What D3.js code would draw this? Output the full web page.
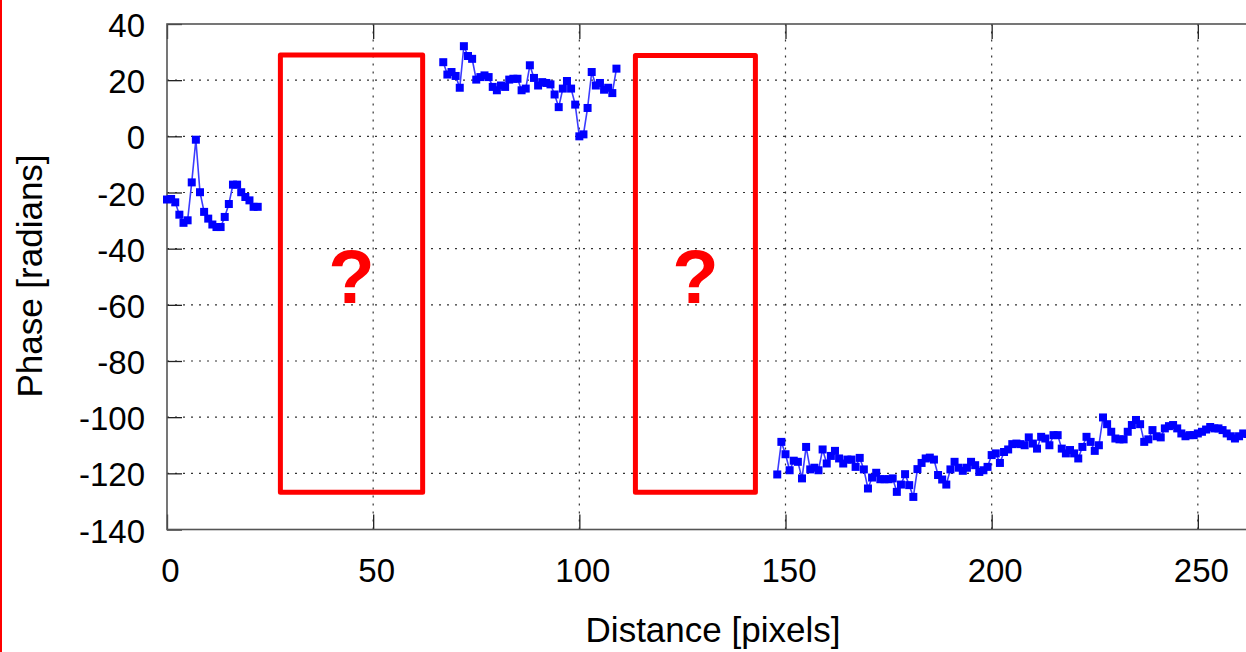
<!DOCTYPE html>
<meta charset="utf-8">
<script src="https://d3js.org/d3.v7.min.js"></script>
<style>
  body { margin: 0; background: #fff; overflow: hidden; }
  text { font-family: "Liberation Sans", Arial, sans-serif; fill: #000; }
</style>
<div id="chart"></div>
<script>

// phase segments (x = distance in pixels)
var seg1Start = 0;
var seg1 = [-22.5, -22.3, -23.5, -27.9, -30.8, -29.9, -16.4, -1.2, -19.9, -26.9, -29.3, -31.4,
  -32.3, -32.3, -28.7, -24.1, -17.2, -17.2, -19.9, -21.6, -22.8, -25.1, -25.1];

var seg2Start = 67;
var seg2 = [26.4, 22.0, 22.9, 21.5, 17.3, 32.1, 28.6, 27.6, 20.2, 21.1, 21.7, 21.1, 17.6, 16.4,
  18.1, 17.6, 20.2, 20.5, 20.5, 16.4, 17.0, 25.3, 20.8, 18.1, 19.3, 19.0, 18.5, 14.9, 10.4,
  17.0, 19.7, 17.0, 11.3, 0.0, 0.7, 10.1, 22.9, 18.1, 19.0, 16.6, 17.3, 15.4, 24.1];

var seg3Start = 148;
var seg3 = [-120.4, -108.8, -113.2, -118.9, -115.5, -115.9, -121.8, -110.6, -118.6, -118.0,
  -118.9, -111.5, -116.5, -113.8, -112.0, -114.7, -116.5, -115.1, -115.1, -117.7, -114.5,
  -118.6, -125.4, -121.5, -119.8, -122.1, -122.1, -122.1, -121.8, -126.6, -124.0, -120.3,
  -124.2, -128.4, -118.5, -116.3, -114.7, -114.4, -115.1, -120.6, -122.2, -124.0, -118.6,
  -115.9, -118.0, -119.1, -118.0, -115.9, -117.1, -119.5, -118.9, -117.7,
  -113.5, -112.9, -116.3, -112.4, -111.5, -109.6, -109.4, -109.6, -110.0, -107.2, -109.4,
  -111.2, -107.0, -107.6, -110.0, -106.4, -106.4, -111.2, -112.9, -111.7, -112.9, -114.7,
  -110.6, -107.0, -108.8, -112.0, -110.0, -100.1, -102.5, -105.2, -107.6, -107.9, -107.9,
  -105.2, -102.8, -101.0, -102.5, -108.8, -107.9, -104.6, -106.8, -107.2, -104.0, -103.2,
  -102.8, -104.0, -105.8, -106.8, -106.4, -106.4, -105.8, -105.2, -104.4, -103.5, -104.0,
  -104.0, -104.6, -105.8, -106.8, -107.6, -106.8, -105.8, -106.0];

var xTicks = [0, 50, 100, 150, 200, 250];
var yTicks = [-140, -120, -100, -80, -60, -40, -20, 0, 20, 40];

// missing stretches marked with red boxes (data units)
var gaps = [
  {x0: 27.5, x1: 62.0, y0: -126.7, y1: 29.0},
  {x0: 113.6, x1: 142.7, y0: -126.7, y1: 28.8}
];

var W = 1246, H = 652;
var margin = {top: 24, left: 167};
var plotW = 1237, plotH = 505.5;   // frame runs past the right edge of the picture

var svg = d3.select("#chart").append("svg")
  .attr("width", W).attr("height", H);

var x = d3.scaleLinear().domain([0, 300]).range([margin.left, margin.left + plotW]);
var y = d3.scaleLinear().domain([-140, 40]).range([margin.top + plotH, margin.top]);

var fmt = function(d) { return String(d); };   // plain hyphen minus, like gnuplot

// grid
svg.append("g").selectAll("line").data(yTicks.slice(1, -1)).enter().append("line")
  .attr("x1", x(0)).attr("x2", x(300))
  .attr("y1", function(d) { return y(d); }).attr("y2", function(d) { return y(d); })
  .attr("stroke", "#333").attr("stroke-width", 1.2).attr("stroke-dasharray", "2,6");
svg.append("g").selectAll("line").data(xTicks.slice(1)).enter().append("line")
  .attr("y1", y(-140)).attr("y2", y(40))
  .attr("x1", function(d) { return x(d); }).attr("x2", function(d) { return x(d); })
  .attr("stroke", "#333").attr("stroke-width", 1.2).attr("stroke-dasharray", "2,6");

// axes with inward ticks
var tk = 15;
svg.append("g").attr("transform", "translate(0," + y(-140) + ")")
  .call(d3.axisBottom(x).tickValues(xTicks).tickFormat(fmt).tickSizeInner(-tk).tickSizeOuter(0).tickPadding(29))
  .call(function(g) {
    g.select(".domain").remove();
    g.selectAll("line").attr("stroke", "#222").attr("stroke-width", 1.3);
    g.selectAll("text").attr("font-size", 33).attr("font-family", "Liberation Sans, Arial, sans-serif")
      .attr("dx", 3);
  });
svg.append("g").attr("transform", "translate(0," + y(40) + ")")
  .call(d3.axisTop(x).tickValues(xTicks).tickSizeInner(-tk).tickSizeOuter(0).tickFormat(""))
  .call(function(g) {
    g.select(".domain").remove();
    g.selectAll("line").attr("stroke", "#222").attr("stroke-width", 1.3);
  });
svg.append("g").attr("transform", "translate(" + x(0) + ",0)")
  .call(d3.axisLeft(y).tickValues(yTicks).tickFormat(fmt).tickSizeInner(-tk).tickSizeOuter(0).tickPadding(22))
  .call(function(g) {
    g.select(".domain").remove();
    g.selectAll("line").attr("stroke", "#222").attr("stroke-width", 1.3);
    g.selectAll("text").attr("font-size", 33).attr("font-family", "Liberation Sans, Arial, sans-serif")
      .attr("dy", "0.38em");
  });

// frame
svg.append("rect")
  .attr("x", x(0)).attr("y", y(40))
  .attr("width", x(300) - x(0)).attr("height", y(-140) - y(40))
  .attr("fill", "none").attr("stroke", "#555").attr("stroke-width", 1.6);

// data
function toPoints(start, vals) {
  return vals.map(function(v, i) { return {x: start + i, y: v}; });
}
var segments = [toPoints(seg1Start, seg1), toPoints(seg2Start, seg2), toPoints(seg3Start, seg3)];

var line = d3.line().x(function(d) { return x(d.x); }).y(function(d) { return y(d.y); });
var ms = 8;
segments.forEach(function(pts) {
  svg.append("path").datum(pts).attr("d", line)
    .attr("fill", "none").attr("stroke", "#3b3bff").attr("stroke-width", 1.6);
  svg.append("g").selectAll("rect").data(pts).enter().append("rect")
    .attr("x", function(d) { return x(d.x) - ms / 2; })
    .attr("y", function(d) { return y(d.y) - ms / 2; })
    .attr("width", ms).attr("height", ms)
    .attr("fill", "#0000ff");
});

// red annotation boxes
gaps.forEach(function(b) {
  svg.append("rect")
    .attr("x", x(b.x0)).attr("y", y(b.y1))
    .attr("width", x(b.x1) - x(b.x0)).attr("height", y(b.y0) - y(b.y1))
    .attr("fill", "none").attr("stroke", "#ff0000").attr("stroke-width", 5)
    .attr("stroke-linejoin", "round");
  svg.append("text")
    .attr("x", (x(b.x0) + x(b.x1)) / 2).attr("y", 303)
    .attr("text-anchor", "middle")
    .attr("font-family", "Open Sans, Noto Sans, sans-serif")
    .attr("font-weight", "bold").attr("font-size", 76)
    .style("fill", "#ff0000")
    .text("?");
});

// axis titles
svg.append("text")
  .attr("x", 713).attr("y", 642).attr("text-anchor", "middle")
  .attr("font-size", 35).text("Distance [pixels]");
svg.append("text")
  .attr("transform", "translate(42,276) rotate(-90)").attr("text-anchor", "middle")
  .attr("font-size", 35).text("Phase [radians]");

// red border on the left edge of the picture
svg.append("line").attr("x1", 1).attr("x2", 1).attr("y1", 0).attr("y2", H)
  .attr("stroke", "#ff0000").attr("stroke-width", 2);

</script>
